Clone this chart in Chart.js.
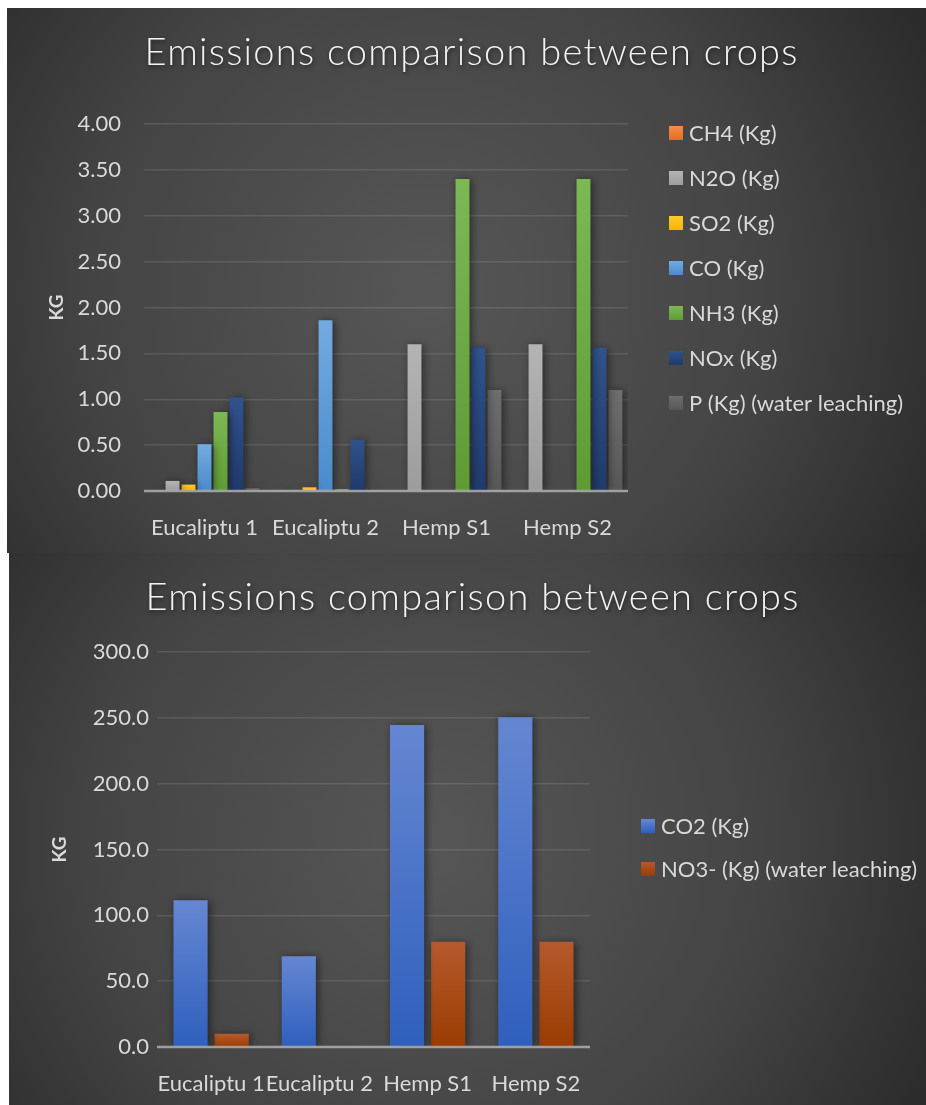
<!DOCTYPE html>
<html>
<head>
<meta charset="utf-8">
<title>Emissions comparison between crops</title>
<script src="https://cdn.jsdelivr.net/npm/chart.js@4.4.1/dist/chart.umd.min.js"></script>
<style>
  html, body { margin: 0; padding: 0; background: #ffffff; }
  body { position: relative; width: 926px; height: 1105px; overflow: hidden; }
  canvas { position: absolute; display: block; }
  #topChart { left: 7px; top: 8px; }
  #bottomChart { left: 9px; top: 553px; }
</style>
</head>
<body>
<canvas id="topChart" width="919" height="545"></canvas>
<canvas id="bottomChart" width="917" height="552"></canvas>
<script>
// ---- data ----
const categories = ['Eucaliptu 1', 'Eucaliptu 2', 'Hemp S1', 'Hemp S2'];

// small-quantity emissions (kg)
const ch4Kg = [0.01, 0.01, 0, 0];
const n2oKg = [0.11, 0.01, 1.60, 1.60];
const so2Kg = [0.07, 0.04, 0, 0];
const coKg  = [0.51, 1.86, 0, 0];
const nh3Kg = [0.86, 0.02, 3.40, 3.40];
const noxKg = [1.02, 0.56, 1.56, 1.56];
const pKg   = [0.03, 0.01, 1.10, 1.10];

// large-quantity emissions (kg)
const co2Kg = [111.5, 69.0, 244.5, 250.5];
const no3Kg = [10.0, 0.8, 80.0, 80.0];

const topTicks = { min: 0, max: 4, step: 0.5, decimals: 2 };
const bottomTicks = { min: 0, max: 300, step: 50, decimals: 1 };

const chartTitle = 'Emissions comparison between crops';

// ---- styling ----
const FONT = "Lato, 'Open Sans', 'DejaVu Sans', sans-serif";
const TEXT = '#d9d9d9';

// [top colour, bottom colour] of each bar fill
const fills = {
  ch4: ['#f28d4c', '#e56d1f'],
  n2o: ['#b4b4b4', '#9c9c9c'],
  so2: ['#ffcb2e', '#f5b400'],
  co:  ['#72abe0', '#4a8bcc'],
  nh3: ['#7cb955', '#5e9b35'],
  nox: ['#31528c', '#1f3a6c'],
  p:   ['#6e6e6e', '#575757'],
  co2: ['#6587d2', '#2f5fbd'],
  no3: ['#b65a2c', '#9a3c03']
};

function barFill(pair) {
  return (ctx) => {
    const chart = ctx.chart;
    if (ctx.type !== 'data' || !chart.chartArea) return pair[1];
    const ys = chart.scales.y;
    const yTop = ys.getPixelForValue(ctx.parsed.y);
    const yBase = ys.getPixelForValue(0);
    if (!isFinite(yTop) || Math.abs(yBase - yTop) < 1) return pair[1];
    const g = chart.ctx.createLinearGradient(0, yTop, 0, yBase);
    g.addColorStop(0, pair[0]);
    g.addColorStop(1, pair[1]);
    return g;
  };
}

function series(label, data, pair) {
  return { label, data, backgroundColor: barFill(pair), swatch: pair, borderWidth: 0 };
}

// dark radial backdrop of each panel
const backdrop = {
  id: 'backdrop',
  beforeDraw(chart) {
    const { ctx, width, height } = chart;
    const g = ctx.createRadialGradient(width * 0.46, height * 0.52, 10, width * 0.46, height * 0.52, width * 0.66);
    g.addColorStop(0, '#565656');
    g.addColorStop(0.55, '#444444');
    g.addColorStop(1, '#262626');
    ctx.save();
    ctx.fillStyle = g;
    ctx.fillRect(0, 0, width, height);
    ctx.restore();
  }
};

// soft drop shadow under bars and the light base line drawn over them
const barShadow = {
  id: 'barShadow',
  beforeDatasetsDraw(chart) {
    const ctx = chart.ctx;
    ctx.save();
    ctx.shadowColor = 'rgba(0,0,0,0.5)';
    ctx.shadowBlur = 8;
    ctx.shadowOffsetX = 2;
    ctx.shadowOffsetY = 1;
  },
  afterDatasetsDraw(chart) {
    const ctx = chart.ctx;
    ctx.restore();
    const a = chart.chartArea;
    const y0 = Math.round(chart.scales.y.getPixelForValue(0));
    ctx.save();
    ctx.strokeStyle = 'rgba(190,190,190,0.75)';
    ctx.lineWidth = 2.5;
    ctx.beginPath();
    ctx.moveTo(a.left, y0);
    ctx.lineTo(a.right, y0);
    ctx.stroke();
    ctx.restore();
  }
};

// letter-spaced heading
const heading = {
  id: 'heading',
  afterDraw(chart, args, opts) {
    const ctx = chart.ctx;
    ctx.save();
    ctx.font = `300 ${opts.size}px ${FONT}`;
    ctx.fillStyle = '#f2f2f2';
    ctx.textAlign = 'center';
    ctx.textBaseline = 'middle';
    ctx.shadowColor = 'rgba(0,0,0,0.55)';
    ctx.shadowBlur = 4;
    ctx.shadowOffsetX = 1;
    ctx.shadowOffsetY = 2;
    ctx.letterSpacing = '0px';
    const plain = ctx.measureText(opts.text).width;
    const spacing = (opts.width - plain) / (opts.text.length - 1);
    ctx.letterSpacing = spacing + 'px';
    ctx.fillText(opts.text, opts.x + spacing / 2, opts.y);
    ctx.restore();
  }
};

// legend with square swatches at a fixed spot right of the plot
const swatchLegend = {
  id: 'swatchLegend',
  afterDraw(chart, args, opts) {
    const ctx = chart.ctx;
    ctx.save();
    ctx.font = `${opts.fontSize}px ${FONT}`;
    ctx.textBaseline = 'middle';
    chart.data.datasets.forEach((ds, i) => {
      const cy = opts.y + i * opts.gap;
      const g = ctx.createLinearGradient(0, cy - 7, 0, cy + 7);
      g.addColorStop(0, ds.swatch[0]);
      g.addColorStop(1, ds.swatch[1]);
      ctx.fillStyle = g;
      ctx.fillRect(opts.x, cy - 7, 14, 14);
      ctx.fillStyle = TEXT;
      ctx.fillText(ds.label, opts.x + 20, cy + 1);
    });
    ctx.restore();
  }
};

function makeOptions(cfg) {
  return {
    responsive: false,
    animation: false,
    devicePixelRatio: 1,
    layout: { padding: { left: 0, top: cfg.top, right: cfg.right, bottom: 0 } },
    categoryPercentage: cfg.catPct,
    barPercentage: cfg.barPct,
    plugins: {
      legend: { display: false },
      tooltip: { enabled: false },
      heading: { text: chartTitle, x: cfg.titleX, y: 45, size: 38, width: 653 },
      swatchLegend: { x: cfg.legendX, y: cfg.legendY, gap: cfg.legendGap, fontSize: 22 }
    },
    scales: {
      x: {
        grid: { display: false },
        border: { display: false },
        ticks: { color: TEXT, font: { family: FONT, size: 22 }, padding: 16, maxRotation: 0, autoSkip: false },
        afterFit: (s) => { s.height = cfg.xHeight; }
      },
      y: {
        min: cfg.ticks.min,
        max: cfg.ticks.max,
        border: { display: false },
        grid: {
          drawTicks: false,
          lineWidth: 1.5,
          color: (c) => (c.tick && c.tick.value === 0 ? 'rgba(0,0,0,0)' : 'rgba(255,255,255,0.11)')
        },
        ticks: {
          stepSize: cfg.ticks.step,
          color: TEXT,
          font: { family: FONT, size: 22 },
          padding: cfg.tickPad,
          callback: (v) => Number(v).toFixed(cfg.ticks.decimals)
        },
        title: {
          display: true,
          text: 'KG',
          color: TEXT,
          font: { family: FONT, size: 19, weight: 'bold' },
          padding: { top: cfg.kgPad, bottom: 0 }
        },
        afterFit: (s) => { s.width = cfg.yWidth; }
      }
    }
  };
}

new Chart(document.getElementById('topChart'), {
  type: 'bar',
  data: {
    labels: categories,
    datasets: [
      series('CH4 (Kg)', ch4Kg, fills.ch4),
      series('N2O (Kg)', n2oKg, fills.n2o),
      series('SO2 (Kg)', so2Kg, fills.so2),
      series('CO (Kg)', coKg, fills.co),
      series('NH3 (Kg)', nh3Kg, fills.nh3),
      series('NOx (Kg)', noxKg, fills.nox),
      series('P (Kg) (water leaching)', pKg, fills.p)
    ]
  },
  options: makeOptions({
    top: 116, right: 298, yWidth: 137, xHeight: 62, tickPad: 23, kgPad: 38,
    catPct: 0.925, barPct: 0.87, ticks: topTicks,
    titleX: 464, legendX: 662, legendY: 125, legendGap: 45
  }),
  plugins: [backdrop, barShadow, heading, swatchLegend]
});

new Chart(document.getElementById('bottomChart'), {
  type: 'bar',
  data: {
    labels: categories,
    datasets: [
      series('CO2 (Kg)', co2Kg, fills.co2),
      series('NO3- (Kg) (water leaching)', no3Kg, fills.no3)
    ]
  },
  options: makeOptions({
    top: 99, right: 336, yWidth: 148, xHeight: 58, tickPad: 8, kgPad: 39,
    catPct: 0.76, barPct: 0.83, ticks: bottomTicks,
    titleX: 463, legendX: 632, legendY: 273, legendGap: 43
  }),
  plugins: [backdrop, barShadow, heading, swatchLegend]
});
</script>
</body>
</html>
